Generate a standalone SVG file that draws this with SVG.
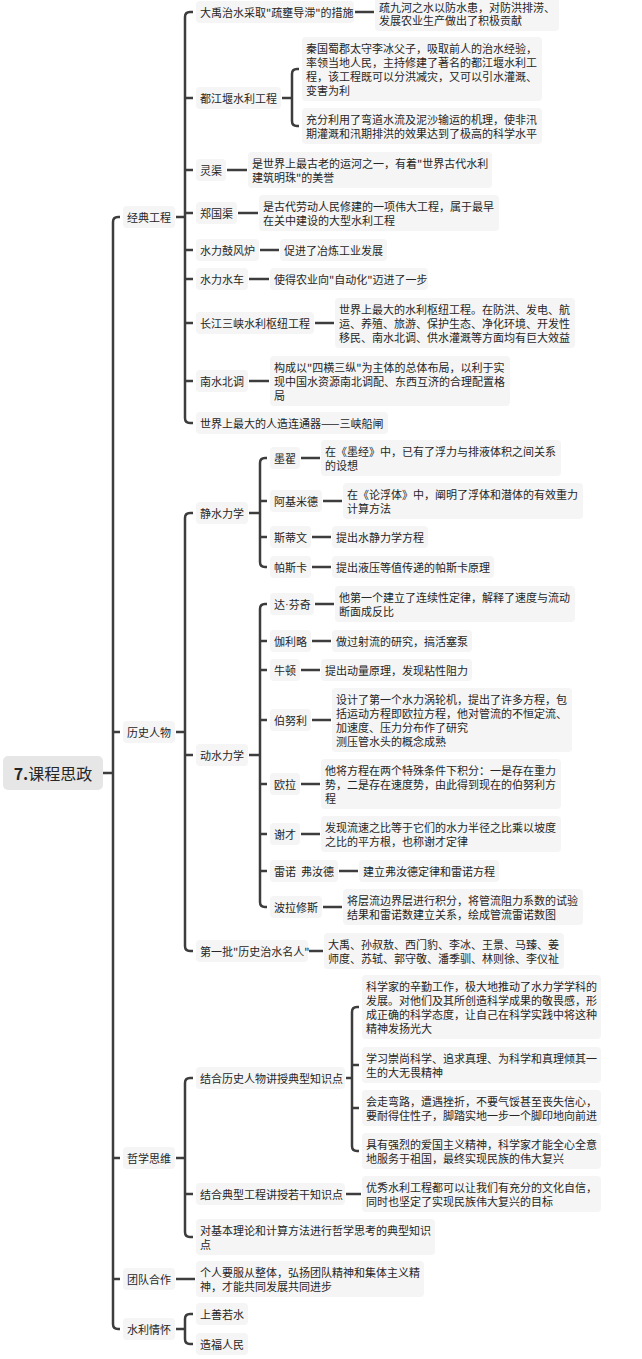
<svg xmlns="http://www.w3.org/2000/svg" width="642" height="1359" viewBox="0 0 642 1359">
<style>
.n{fill:#f5f5f5;rx:4px;ry:4px}
.r{fill:#e6e6e6;rx:5px;ry:5px}
.t{font-family:"Noto Sans CJK SC","Noto Sans",sans-serif;font-size:11px;fill:#262626;dominant-baseline:central}
.rt{font-family:"Noto Sans CJK SC","Noto Sans",sans-serif;font-size:16px;fill:#262626;dominant-baseline:central;text-anchor:middle}
.c{fill:none;stroke:#3d3d3d;stroke-width:2.5;stroke-linecap:butt}
</style>
<rect width="642" height="1359" fill="#ffffff"/>
<g id="connectors">
<path class="c" d="M103 773H113"/>
<path class="c" d="M120 217H118Q113 217 113 222V1324Q113 1329 118 1329H120"/>
<path class="c" d="M113 732H120M113 1158H120M113 1279H120"/>
<path class="c" d="M176 217H185"/>
<path class="c" d="M193 12H190Q185 12 185 17V418Q185 423 190 423H193"/>
<path class="c" d="M185 98H193M185 170H193M185 213H193M185 250H193M185 279H193M185 323H193M185 381H193"/>
<path class="c" d="M355 12H374"/>
<path class="c" d="M282 98H292"/>
<path class="c" d="M299 69H297Q292 69 292 74V121Q292 126 297 126H299"/>
<path class="c" d="M227 170H247"/>
<path class="c" d="M238 213H258"/>
<path class="c" d="M260 250H279"/>
<path class="c" d="M249 279H269"/>
<path class="c" d="M315 323H334"/>
<path class="c" d="M249 381H269"/>
<path class="c" d="M176 732H185"/>
<path class="c" d="M193 513H190Q185 513 185 518V946Q185 951 190 951H193"/>
<path class="c" d="M185 755H193"/>
<path class="c" d="M249 513H260"/>
<path class="c" d="M267 458H265Q260 458 260 463V562Q260 567 265 567H267"/>
<path class="c" d="M260 501H267M260 537H267"/>
<path class="c" d="M301 458H320M323 501H342M312 537H331M312 567H331"/>
<path class="c" d="M249 755H260"/>
<path class="c" d="M267 604H265Q260 604 260 609V902Q260 907 265 907H267"/>
<path class="c" d="M260 641H267M260 670H267M260 720H267M260 784H267M260 834H267M260 871H267"/>
<path class="c" d="M315 604H334M312 641H331M301 670H320M312 720H331M301 784H320M301 834H320M339 871H358M323 907H342"/>
<path class="c" d="M309 951H323"/>
<path class="c" d="M176 1158H185"/>
<path class="c" d="M193 1078H190Q185 1078 185 1083V1232Q185 1237 190 1237H193"/>
<path class="c" d="M185 1194H193"/>
<path class="c" d="M346 1078H352"/>
<path class="c" d="M359 1007H357Q352 1007 352 1012V1146Q352 1151 357 1151H359"/>
<path class="c" d="M352 1065H359M352 1108H359"/>
<path class="c" d="M346 1194H361"/>
<path class="c" d="M176 1279H195"/>
<path class="c" d="M176 1329H185"/>
<path class="c" d="M193 1314H190Q185 1314 185 1319V1339Q185 1344 190 1344H193"/>
</g>
<g id="root"><rect class="r" x="3" y="756" width="100" height="34"/><text class="rt" x="53" y="773"><tspan font-weight="bold">7.</tspan>课程思政</text></g>
<g id="jdgc"><rect class="n" x="123" y="206" width="52" height="22"/><text class="t" x="127" y="217">经典工程</text></g>
<g id="lsrw"><rect class="n" x="123" y="721" width="52" height="22"/><text class="t" x="127" y="732">历史人物</text></g>
<g id="zxsw"><rect class="n" x="123" y="1147" width="52" height="22"/><text class="t" x="127" y="1158">哲学思维</text></g>
<g id="tdhz"><rect class="n" x="123" y="1268" width="52" height="22"/><text class="t" x="127" y="1279">团队合作</text></g>
<g id="slqh"><rect class="n" x="123" y="1318" width="52" height="22"/><text class="t" x="127" y="1329">水利情怀</text></g>
<g id="dy"><rect class="n" x="196" y="1" width="158" height="22"/><text class="t" x="200" y="12">大禹治水采取"疏壅导滞"的措施</text></g>
<g id="dy-d"><rect class="n" x="375" y="-5" width="184" height="36"/><text class="t"><tspan x="379" y="6.5">疏九河之水以防水患，对防洪排涝、</tspan><tspan x="379" y="20">发展农业生产做出了积极贡献</tspan></text></g>
<g id="djy"><rect class="n" x="196" y="87" width="85" height="22"/><text class="t" x="200" y="98">都江堰水利工程</text></g>
<g id="djy-a"><rect class="n" x="302" y="37" width="240" height="64"/><text class="t"><tspan x="306" y="48">秦国蜀郡太守李冰父子，吸取前人的治水经验，</tspan><tspan x="306" y="62">率领当地人民，主持修建了著名的都江堰水利工</tspan><tspan x="306" y="76">程，该工程既可以分洪减灾，又可以引水灌溉、</tspan><tspan x="306" y="90">变害为利</tspan></text></g>
<g id="djy-b"><rect class="n" x="302" y="108" width="240" height="36"/><text class="t"><tspan x="306" y="119">充分利用了弯道水流及泥沙输运的机理，使非汛</tspan><tspan x="306" y="133">期灌溉和汛期排洪的效果达到了极高的科学水平</tspan></text></g>
<g id="lq"><rect class="n" x="196" y="159" width="30" height="22"/><text class="t" x="200" y="170">灵渠</text></g>
<g id="lq-d"><rect class="n" x="248" y="152" width="244" height="36"/><text class="t"><tspan x="252" y="163">是世界上最古老的运河之一，有着"世界古代水利</tspan><tspan x="252" y="177">建筑明珠"的美誉</tspan></text></g>
<g id="zgq"><rect class="n" x="196" y="202" width="41" height="22"/><text class="t" x="200" y="213">郑国渠</text></g>
<g id="zgq-d"><rect class="n" x="259" y="195" width="240" height="36"/><text class="t"><tspan x="263" y="206">是古代劳动人民修建的一项伟大工程，属于最早</tspan><tspan x="263" y="220">在关中建设的大型水利工程</tspan></text></g>
<g id="gfl"><rect class="n" x="196" y="239" width="63" height="22"/><text class="t" x="200" y="250">水力鼓风炉</text></g>
<g id="gfl-d"><rect class="n" x="280" y="239" width="107" height="22"/><text class="t" x="284" y="250">促进了冶炼工业发展</text></g>
<g id="slsc"><rect class="n" x="196" y="268" width="52" height="22"/><text class="t" x="200" y="279">水力水车</text></g>
<g id="slsc-d"><rect class="n" x="270" y="268" width="158" height="22"/><text class="t" x="274" y="279">使得农业向"自动化"迈进了一步</text></g>
<g id="sx"><rect class="n" x="196" y="312" width="118" height="22"/><text class="t" x="200" y="323">长江三峡水利枢纽工程</text></g>
<g id="sx-d"><rect class="n" x="335" y="298" width="240" height="50"/><text class="t"><tspan x="339" y="309">世界上最大的水利枢纽工程。在防洪、发电、航</tspan><tspan x="339" y="323">运、养殖、旅游、保护生态、净化环境、开发性</tspan><tspan x="339" y="337">移民、南水北调、供水灌溉等方面均有巨大效益</tspan></text></g>
<g id="nsbd"><rect class="n" x="196" y="370" width="52" height="22"/><text class="t" x="200" y="381">南水北调</text></g>
<g id="nsbd-d"><rect class="n" x="270" y="356" width="240" height="50"/><text class="t"><tspan x="274" y="367">构成以"四横三纵"为主体的总体布局，以利于实</tspan><tspan x="274" y="381">现中国水资源南北调配、东西互济的合理配置格</tspan><tspan x="274" y="395">局</tspan></text></g>
<g id="sxcz"><rect class="n" x="196" y="412" width="192" height="22"/><text class="t" x="200" y="423">世界上最大的人造连通器——三峡船闸</text></g>
<g id="jslx"><rect class="n" x="196" y="502" width="52" height="22"/><text class="t" x="200" y="513">静水力学</text></g>
<g id="mz"><rect class="n" x="270" y="447" width="30" height="22"/><text class="t" x="274" y="458">墨翟</text></g>
<g id="mz-d"><rect class="n" x="321" y="440" width="240" height="36"/><text class="t"><tspan x="325" y="451">在《墨经》中，已有了浮力与排液体积之间关系</tspan><tspan x="325" y="465">的设想</tspan></text></g>
<g id="akmd"><rect class="n" x="270" y="490" width="52" height="22"/><text class="t" x="274" y="501">阿基米德</text></g>
<g id="akmd-d"><rect class="n" x="343" y="483" width="240" height="36"/><text class="t"><tspan x="347" y="494">在《论浮体》中，阐明了浮体和潜体的有效重力</tspan><tspan x="347" y="508">计算方法</tspan></text></g>
<g id="sdw"><rect class="n" x="270" y="526" width="41" height="22"/><text class="t" x="274" y="537">斯蒂文</text></g>
<g id="sdw-d"><rect class="n" x="332" y="526" width="96" height="22"/><text class="t" x="336" y="537">提出水静力学方程</text></g>
<g id="psk"><rect class="n" x="270" y="556" width="41" height="22"/><text class="t" x="274" y="567">帕斯卡</text></g>
<g id="psk-d"><rect class="n" x="332" y="556" width="162" height="22"/><text class="t" x="336" y="567">提出液压等值传递的帕斯卡原理</text></g>
<g id="dslx"><rect class="n" x="196" y="744" width="52" height="22"/><text class="t" x="200" y="755">动水力学</text></g>
<g id="dfq"><rect class="n" x="270" y="593" width="44" height="22"/><text class="t" x="274" y="604">达<tspan font-family="Liberation Sans">·</tspan>芬奇</text></g>
<g id="dfq-d"><rect class="n" x="335" y="586" width="240" height="36"/><text class="t"><tspan x="339" y="597">他第一个建立了连续性定律，解释了速度与流动</tspan><tspan x="339" y="611">断面成反比</tspan></text></g>
<g id="jll"><rect class="n" x="270" y="630" width="41" height="22"/><text class="t" x="274" y="641">伽利略</text></g>
<g id="jll-d"><rect class="n" x="332" y="630" width="140" height="22"/><text class="t" x="336" y="641">做过射流的研究，搞活塞泵</text></g>
<g id="nd"><rect class="n" x="270" y="659" width="30" height="22"/><text class="t" x="274" y="670">牛顿</text></g>
<g id="nd-d"><rect class="n" x="321" y="659" width="151" height="22"/><text class="t" x="325" y="670">提出动量原理，发现粘性阻力</text></g>
<g id="bnl"><rect class="n" x="270" y="709" width="41" height="22"/><text class="t" x="274" y="720">伯努利</text></g>
<g id="bnl-d"><rect class="n" x="332" y="688" width="240" height="64"/><text class="t"><tspan x="336" y="699">设计了第一个水力涡轮机，提出了许多方程，包</tspan><tspan x="336" y="713">括运动方程即欧拉方程，他对管流的不恒定流、</tspan><tspan x="336" y="727">加速度、压力分布作了研究</tspan><tspan x="336" y="741">测压管水头的概念成熟</tspan></text></g>
<g id="ol"><rect class="n" x="270" y="773" width="30" height="22"/><text class="t" x="274" y="784">欧拉</text></g>
<g id="ol-d"><rect class="n" x="321" y="759" width="240" height="50"/><text class="t"><tspan x="325" y="770">他将方程在两个特殊条件下积分：一是存在重力</tspan><tspan x="325" y="784">势，二是存在速度势，由此得到现在的伯努利方</tspan><tspan x="325" y="798">程</tspan></text></g>
<g id="xc"><rect class="n" x="270" y="823" width="30" height="22"/><text class="t" x="274" y="834">谢才</text></g>
<g id="xc-d"><rect class="n" x="321" y="816" width="240" height="36"/><text class="t"><tspan x="325" y="827">发现流速之比等于它们的水力半径之比乘以坡度</tspan><tspan x="325" y="841">之比的平方根，也称谢才定律</tspan></text></g>
<g id="lnfrd"><rect class="n" x="270" y="860" width="68" height="22"/><text class="t" x="274" y="871" xml:space="preserve">雷诺  弗汝德</text></g>
<g id="lnfrd-d"><rect class="n" x="359" y="860" width="140" height="22"/><text class="t" x="363" y="871">建立弗汝德定律和雷诺方程</text></g>
<g id="blxs"><rect class="n" x="270" y="896" width="52" height="22"/><text class="t" x="274" y="907">波拉修斯</text></g>
<g id="blxs-d"><rect class="n" x="343" y="889" width="240" height="36"/><text class="t"><tspan x="347" y="900">将层流边界层进行积分，将管流阻力系数的试验</tspan><tspan x="347" y="914">结果和雷诺数建立关系，绘成管流雷诺数图</tspan></text></g>
<g id="dyp"><rect class="n" x="196" y="940" width="112" height="22"/><text class="t" x="200" y="951">第一批"历史治水名人"</text></g>
<g id="dyp-d"><rect class="n" x="324" y="933" width="240" height="36"/><text class="t"><tspan x="328" y="944">大禹、孙叔敖、西门豹、李冰、王景、马臻、姜</tspan><tspan x="328" y="958">师度、苏轼、郭守敬、潘季驯、林则徐、李仪祉</tspan></text></g>
<g id="jhls"><rect class="n" x="196" y="1067" width="149" height="22"/><text class="t" x="200" y="1078">结合历史人物讲授典型知识点</text></g>
<g id="jhls-a"><rect class="n" x="362" y="975" width="239" height="64"/><text class="t"><tspan x="366" y="986">科学家的辛勤工作，极大地推动了水力学学科的</tspan><tspan x="366" y="1000">发展。对他们及其所创造科学成果的敬畏感，形</tspan><tspan x="366" y="1014">成正确的科学态度，让自己在科学实践中将这种</tspan><tspan x="366" y="1028">精神发扬光大</tspan></text></g>
<g id="jhls-b"><rect class="n" x="362" y="1047" width="239" height="36"/><text class="t"><tspan x="366" y="1058">学习崇尚科学、追求真理、为科学和真理倾其一</tspan><tspan x="366" y="1072">生的大无畏精神</tspan></text></g>
<g id="jhls-c"><rect class="n" x="362" y="1090" width="239" height="36"/><text class="t"><tspan x="366" y="1101">会走弯路，遭遇挫折，不要气馁甚至丧失信心，</tspan><tspan x="366" y="1115">要耐得住性子，脚踏实地一步一个脚印地向前进</tspan></text></g>
<g id="jhls-d"><rect class="n" x="362" y="1133" width="239" height="36"/><text class="t"><tspan x="366" y="1144">具有强烈的爱国主义精神，科学家才能全心全意</tspan><tspan x="366" y="1158">地服务于祖国，最终实现民族的伟大复兴</tspan></text></g>
<g id="jhdx"><rect class="n" x="196" y="1183" width="149" height="22"/><text class="t" x="200" y="1194">结合典型工程讲授若干知识点</text></g>
<g id="jhdx-d"><rect class="n" x="362" y="1176" width="239" height="36"/><text class="t"><tspan x="366" y="1187">优秀水利工程都可以让我们有充分的文化自信，</tspan><tspan x="366" y="1201">同时也坚定了实现民族伟大复兴的目标</tspan></text></g>
<g id="djb"><rect class="n" x="196" y="1219" width="239" height="36"/><text class="t"><tspan x="200" y="1230">对基本理论和计算方法进行哲学思考的典型知识</tspan><tspan x="200" y="1244">点</tspan></text></g>
<g id="tdhz-d"><rect class="n" x="196" y="1261" width="228" height="36"/><text class="t"><tspan x="200" y="1272">个人要服从整体，弘扬团队精神和集体主义精</tspan><tspan x="200" y="1286">神，才能共同发展共同进步</tspan></text></g>
<g id="ssrs"><rect class="n" x="196" y="1303" width="52" height="22"/><text class="t" x="200" y="1314">上善若水</text></g>
<g id="zfrm"><rect class="n" x="196" y="1333" width="52" height="22"/><text class="t" x="200" y="1344">造福人民</text></g>
</svg>
